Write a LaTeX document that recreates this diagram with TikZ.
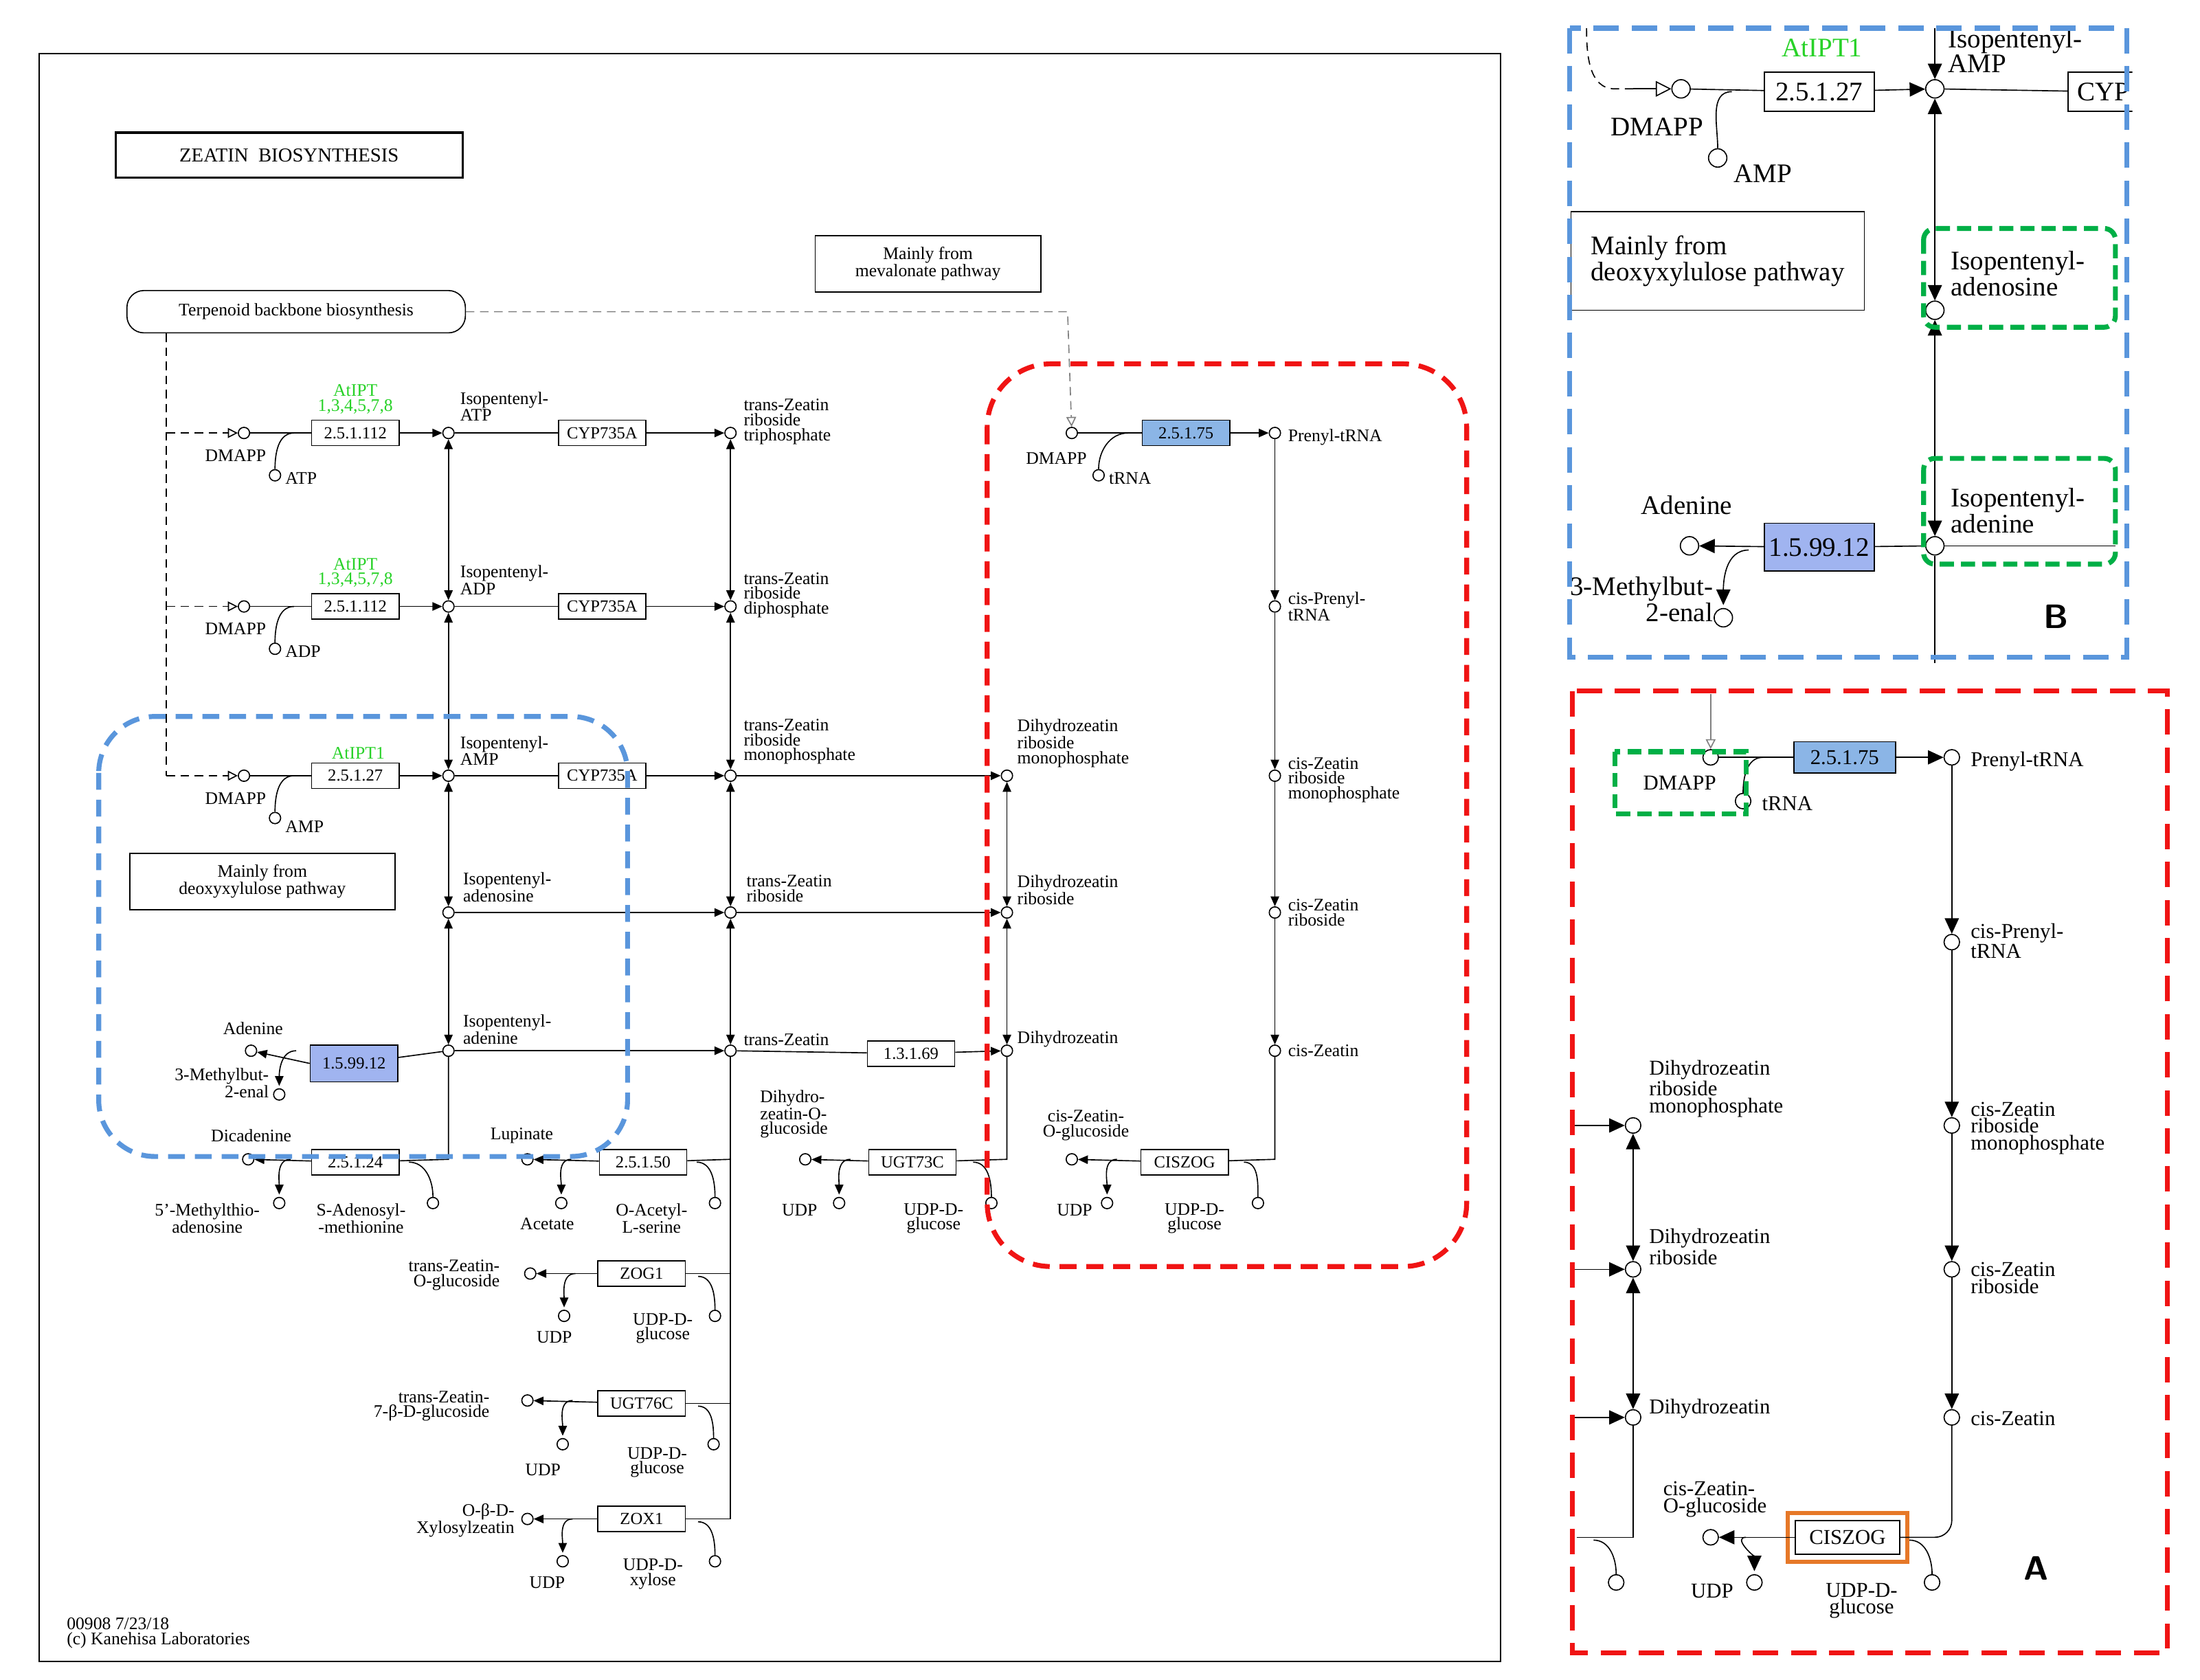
\documentclass[tikz,border=0pt]{standalone}
\usepackage{fontspec}
\setmainfont{Liberation Serif}
\usetikzlibrary{arrows.meta,calc}
\definecolor{kblue}{RGB}{160,180,240}
\definecolor{kgreen}{RGB}{40,210,40}
\definecolor{dblue}{RGB}{90,150,220}
\definecolor{dred}{RGB}{240,20,20}
\definecolor{dgreen}{RGB}{0,175,70}
\definecolor{dorange}{RGB}{230,120,40}
\begin{document}
\begin{tikzpicture}[x=1pt,y=-1pt,line width=0.8pt,
 cmp/.style={circle,draw,fill=white,inner sep=0,minimum size=8pt},
 big/.style={circle,draw,fill=white,inner sep=0,minimum size=13pt},
 enz/.style={draw,fill=white,minimum width=62,minimum height=18,inner sep=1pt,font=\fontsize{12}{12}\selectfont},
 benz/.style={enz,fill=kblue},
 Enz/.style={draw,fill=white,minimum width=78,minimum height=28,inner sep=1pt,font=\fontsize{19}{19}\selectfont},
 t/.style={font=\fontsize{12.5}{10.5}\selectfont,align=left,inner sep=1pt},
 T/.style={font=\fontsize{19}{16}\selectfont,align=left,inner sep=1pt},
 ar/.style={-{Triangle[length=7pt,width=6pt]}},
 Ar/.style={-{Triangle[length=11pt,width=10pt]}},
 dar/.style={{Triangle[length=7pt,width=6pt]}-{Triangle[length=7pt,width=6pt]}},
 Dar/.style={{Triangle[length=11pt,width=10pt]}-{Triangle[length=11pt,width=10pt]}},
 dsh/.style={dashed,dash pattern=on 6pt off 4pt},
 otri/.style={-{Triangle[open,length=7pt,width=7pt]}},
 Otri/.style={-{Triangle[open,length=11pt,width=11pt]}}]
\useasboundingbox (0,0) rectangle (1560,1191);
\fill[white] (0,0) rectangle (1560,1191);
% ===== left panel =====
\draw[line width=1pt] (28,38) rectangle (1064,1178);
\node[draw,line width=1.6pt,minimum width=246,minimum height=32,font=\fontsize{14}{14}\selectfont] (title) at (205,110) {ZEATIN\ \ BIOSYNTHESIS};
\node[draw,rounded corners=12pt,minimum width=240,minimum height=30,t] (terp) at (210,221) {Terpenoid backbone biosynthesis};
\node[draw,minimum width=160,minimum height=40,t,align=center] (mev) at (658,187) {Mainly from\\ mevalonate pathway};
\node[draw,minimum width=188,minimum height=40,t,align=center] (deo) at (186,625) {Mainly from\\ deoxyxylulose pathway};
% compounds
\foreach \n/\x/\y in {d1/173/307,d2/173/430,d3/173/550,atp/195/337,adp/195/460,amp/195/580,
 iatp/318/307,iadp/318/430,iamp/318/550,iado/318/647,iade/318/745,
 tzt/518/307,tzd/518/430,tzm/518/550,tzr/518/647,tz/518/745,
 dzm/714/550,dzr/714/647,dz/714/745,
 dm/760/307,trna/779/337,ptrna/904/307,cpt/904/430,czm/904/550,czr/904/647,cz/904/745,
 aden/178/745,meb/198/776,dic/176/822,mta/198/853,sam/307/853,
 lup/374/822,ace/398/853,oas/507/853,dzog/571/822,udp1/595/853,udpg1/703/853,
 czog/760/822,udp2/785/853,udpg2/892/853,
 tzog/376/903,udp3/400/933,udpg3/507/933,
 tz7/374/993,udp4/399/1024,udpg4/506/1024,
 oxz/374/1077,udp5/399/1107,udx/507/1107}
 {\node[cmp] (\n) at (\x,\y) {};}
% enzymes
\node[enz] (e1) at (252,307) {2.5.1.112};
\node[enz] (e2) at (252,430) {2.5.1.112};
\node[enz] (e3) at (252,550) {2.5.1.27};
\node[enz] (c1) at (427,307) {CYP735A};
\node[enz] (c2) at (427,430) {CYP735A};
\node[enz] (c3) at (427,550) {CYP735A};
\node[benz,minimum height=26] (e4) at (251,754) {1.5.99.12};
\node[enz] (e5) at (646,747) {1.3.1.69};
\node[enz] (e6) at (252,824) {2.5.1.24};
\node[enz] (e7) at (456,824) {2.5.1.50};
\node[enz] (e8) at (647,824) {UGT73C};
\node[enz] (e9) at (840,824) {CISZOG};
\node[enz] (e10) at (455,903) {ZOG1};
\node[enz] (e11) at (455,995) {UGT76C};
\node[enz] (e12) at (455,1077) {ZOX1};
\node[benz,fill=dblue!70] (e13) at (841,307) {2.5.1.75};
% green labels
\node[t,text=kgreen,align=center] at (252,283) {AtIPT\\1,3,4,5,7,8};
\node[t,text=kgreen,align=center] at (252,406) {AtIPT\\1,3,4,5,7,8};
\node[t,text=kgreen] at (254,534) {AtIPT1};
% dashed from terpenoid
\coordinate (tl) at (118,237);
\draw[dsh] (terp.south west -| tl) -- (118,550);
\foreach \d/\y in {d1/307,d2/430,d3/550}{\draw[dsh,otri] (118,\y) -- (\d);}
\draw[dsh,otri,gray] (terp.east) -- (757,221) -- (dm);
% rows
\foreach \d/\e/\p/\s in {d1/e1/iatp/atp,d2/e2/iadp/adp,d3/e3/iamp/amp}{
 \draw (\d) -- (\e); \draw[ar] (\e) -- (\p);
 \draw (\s) to[out=90,in=180] ($(\d)!0.45!(\e)$);}
\foreach \a/\c/\b in {iatp/c1/tzt,iadp/c2/tzd,iamp/c3/tzm}{\draw (\a)--(\c); \draw[ar] (\c)--(\b);}
\draw[ar] (iado) -- (tzr); \draw[ar] (iade) -- (tz);
\draw[ar] (tzm) -- (dzm); \draw[ar] (tzr) -- (dzr);
\draw (tz) -- (e5); \draw[ar] (e5) -- (dz);
\draw[dar] (iatp) -- (iadp); \draw[dar] (iadp) -- (iamp); \draw[dar] (iamp) -- (iado); \draw[dar] (iado) -- (iade);
\draw[dar] (tzt) -- (tzd); \draw[dar] (tzd) -- (tzm); \draw[dar] (tzm) -- (tzr); \draw[dar] (tzr) -- (tz);
\draw[dar] (dzm) -- (dzr); \draw[dar] (dzr) -- (dz);
% 1.5.99.12
\draw (iade) -- (e4); \draw[ar] (e4.west) -- (aden);
\draw[ar] (210,745) to[out=180,in=90] ($(meb)+(0,-6)$);
% 2.5.1.24
\draw (iade) -- (318,822) -- (e6); \draw[ar] (e6) -- (dic);
\draw[ar] (206,822) to[out=180,in=90] ($(mta)+(0,-6)$);
\draw (sam) to[out=90,in=0] (290,824);
% 2.5.1.50
\draw (tz) -- (518,1077);
\draw (518,822) -- (e7); \draw[ar] (e7) -- (lup);
\draw[ar] (405,822) to[out=180,in=90] ($(ace)+(0,-6)$);
\draw (oas) to[out=90,in=0] (494,824);
% UGT73C
\draw (dz) -- (714,822) -- (e8); \draw[ar] (e8) -- (dzog);
\draw[ar] (603,822) to[out=180,in=90] ($(udp1)+(0,-6)$);
\draw (udpg1) to[out=90,in=0] (690,824);
% CISZOG
\draw (cz) -- (904,822) -- (e9); \draw[ar] (e9) -- (czog);
\draw[ar] (792,822) to[out=180,in=90] ($(udp2)+(0,-6)$);
\draw (udpg2) to[out=90,in=0] (882,824);
% ZOG1 etc
\foreach \e/\p/\u/\g/\y in {e10/tzog/udp3/udpg3/903,e11/tz7/udp4/udpg4/995,e12/oxz/udp5/udx/1077}{
 \draw (518,\y) -- (\e); \draw[ar] (\e) -- (\p);
 \draw[ar] ($(\p)+(32,0)$) to[out=180,in=90] ($(\u)+(0,-6)$);
 \draw (\g) to[out=90,in=0] ($(\e)+(40,2)$);}
% cis branch
\draw (dm) -- (e13); \draw[ar] (e13) -- (ptrna);
\draw (trna) to[out=90,in=180] (800,307);
\draw[ar] (ptrna) -- (cpt); \draw[ar] (cpt) -- (czm); \draw[ar] (czm) -- (czr); \draw[ar] (czr) -- (cz);
% labels
\node[t,anchor=east] at (190,323) {DMAPP}; \node[t,anchor=west] at (201,339) {ATP};
\node[t,anchor=east] at (190,446) {DMAPP}; \node[t,anchor=west] at (201,462) {ADP};
\node[t,anchor=east] at (190,566) {DMAPP}; \node[t,anchor=west] at (201,586) {AMP};
\node[t,anchor=south west] at (325,300) {Isopentenyl-\\ATP};
\node[t,anchor=south west] at (325,423) {Isopentenyl-\\ADP};
\node[t,anchor=south west] at (325,544) {Isopentenyl-\\AMP};
\node[t,anchor=south west] at (327,641) {Isopentenyl-\\adenosine};
\node[t,anchor=south west] at (327,742) {Isopentenyl-\\adenine};
\node[t,anchor=west] at (526,299) {trans-Zeatin\\riboside\\triphosphate};
\node[t,anchor=west] at (526,422) {trans-Zeatin\\riboside\\diphosphate};
\node[t,anchor=west] at (526,526) {trans-Zeatin\\riboside\\monophosphate};
\node[t,anchor=west] at (528,630) {trans-Zeatin\\riboside};
\node[t,anchor=west] at (526,737) {trans-Zeatin};
\node[t,anchor=west] at (720,527) {Dihydrozeatin\\riboside\\monophosphate};
\node[t,anchor=west] at (720,631) {Dihydrozeatin\\riboside};
\node[t,anchor=west] at (720,737) {Dihydrozeatin};
\node[t,anchor=east] at (772,325) {DMAPP}; \node[t,anchor=west] at (785,339) {tRNA};
\node[t,anchor=west] at (912,310) {Prenyl-tRNA};
\node[t,anchor=west] at (912,430) {cis-Prenyl-\\tRNA};
\node[t,anchor=west] at (912,553) {cis-Zeatin\\riboside\\monophosphate};
\node[t,anchor=west] at (912,647) {cis-Zeatin\\riboside};
\node[t,anchor=west] at (912,745) {cis-Zeatin};
\node[t,anchor=east] at (202,729) {Adenine};
\node[t,anchor=east,align=right] at (192,768) {3-Methylbut-\\2-enal};
\node[t,anchor=east] at (208,805) {Dicadenine};
\node[t,align=center] at (147,864) {5'-Methylthio-\\adenosine};
\node[t,align=center] at (256,864) {S-Adenosyl-\\-methionine};
\node[t] at (370,805) {Lupinate};
\node[t] at (388,868) {Acetate};
\node[t,align=center] at (462,864) {O-Acetyl-\\L-serine};
\node[t,align=left] at (563,790) {Dihydro-\\zeatin-O-\\glucoside};
\node[t] at (567,858) {UDP}; \node[t,align=center] at (662,864) {UDP-D-\\glucose};
\node[t,align=center] at (770,798) {cis-Zeatin-\\O-glucoside};
\node[t] at (762,858) {UDP}; \node[t,align=center] at (847,864) {UDP-D-\\glucose};
\node[t,align=right] at (322,904) {trans-Zeatin-\\O-glucoside};
\node[t] at (393,948) {UDP}; \node[t,align=center] at (470,942) {UDP-D-\\glucose};
\node[t,align=right] at (306,997) {trans-Zeatin-\\7-β-D-glucoside};
\node[t] at (385,1042) {UDP}; \node[t,align=center] at (466,1037) {UDP-D-\\glucose};
\node[t,align=right] at (330,1078) {O-β-D-\\Xylosylzeatin};
\node[t] at (388,1122) {UDP}; \node[t,align=center] at (463,1116) {UDP-D-\\xylose};
\node[t,anchor=west] at (46,1158) {00908 7/23/18\\(c) Kanehisa Laboratories};
% highlight regions
\draw[dblue,line width=3.5pt,dash pattern=on 12pt off 7pt,rounded corners=40pt] (70,508) rectangle (445,820);
\draw[dred,line width=3.5pt,dash pattern=on 12pt off 7pt,rounded corners=45pt] (700,258) rectangle (1040,898);
% ===== inset B =====
\begin{scope}
\clip (1110,17) rectangle (1512,470);
\node[big] (Bd) at (1192,63) {}; \node[big] (Bamp) at (1218,112) {};
\node[big] (Bi) at (1372,63) {}; \node[big] (Bado) at (1372,220) {};
\node[big] (Bade) at (1372,387) {}; \node[big] (Baden) at (1198,387) {};
\node[big] (Bmeb) at (1222,438) {};
\node[Enz] (Be) at (1290,65) {2.5.1.27};
\node[Enz,anchor=west,minimum width=50] (Bc) at (1466,65) {CYP};
\node[Enz,fill=kblue,minimum height=34] (Bf) at (1290,388) {1.5.99.12};
\node[draw,minimum width=208,minimum height=70,T,align=left] (Bdeo) at (1218,185) {Mainly from\\deoxyxylulose pathway};
\draw[dsh] (1125,20) to[out=-90,in=180] (1145,63) -- (1160,63);
\draw[Otri] (1158,63) -- (Bd);
\draw (Bd) -- (Be); \draw[Ar] (Be) -- (Bi); \draw (Bi) -- (Bc);
\draw (Bamp) to[out=90,in=180] (1228,65);
\draw[Ar] (1372,20) -- (Bi);
\draw[Dar] (Bi) -- (Bado); \draw[Dar] (Bado) -- (Bade);
\draw (Bade) -- (1372,470); \draw (Bade) -- (1500,387);
\draw (Bade) -- (Bf); \draw[Ar] (Bf) -- (Baden);
\draw[Ar] (1240,390) to[out=180,in=90] ($(Bmeb)+(0,-9)$);
\node[T,text=kgreen] at (1292,34) {AtIPT1};
\node[T,anchor=west] at (1380,36) {Isopentenyl-\\AMP};
\node[T] at (1175,90) {DMAPP}; \node[T] at (1250,123) {AMP};
\node[T,anchor=west] at (1382,194) {Isopentenyl-\\adenosine};
\node[T,anchor=west] at (1382,362) {Isopentenyl-\\adenine};
\node[T] at (1196,358) {Adenine};
\node[T,align=right,anchor=east] at (1216,425) {3-Methylbut-\\2-enal};
\end{scope}
\draw[dgreen,line width=3.5pt,dash pattern=on 10pt off 5pt,rounded corners=8pt] (1364,162) rectangle (1500,232);
\draw[dgreen,line width=3.5pt,dash pattern=on 10pt off 5pt,rounded corners=8pt] (1364,325) rectangle (1500,400);
\draw[dblue,line width=3.5pt,dash pattern=on 18pt off 9pt] (1113,20) rectangle (1508,466);
\node[font=\fontsize{24}{24}\selectfont\sffamily\bfseries] at (1458,437) {B};
% ===== inset A =====
\foreach \n/\x/\y in {Ad/1213/537,Atr/1236/568,Ap/1384/537,Acp/1384/668,Acm/1384/798,Acr/1384/900,Acz/1384/1005,
 Adm/1158/798,Adr/1158/900,Adz/1158/1005,Aog/1213/1090,Audp/1244/1122,Aug/1370/1122,Ax1/1146/1122}
 {\node[big,minimum size=11pt] (\n) at (\x,\y) {};}
\node[enz,fill=dblue!70,font=\fontsize{15}{15}\selectfont,minimum width=72,minimum height=22] (Ae) at (1308,537) {2.5.1.75};
\node[enz,font=\fontsize{15}{15}\selectfont,minimum width=74,minimum height=24] (Acs) at (1310,1090) {CISZOG};
\draw[dorange,line width=3pt] ($(Acs.south west)+(-5,5)$) rectangle ($(Acs.north east)+(5,-5)$);
\draw[gray,otri] (1213,492) -- (Ad);
\draw (Ad) -- (Ae); \draw[Ar] (Ae) -- (Ap);
\draw (Atr) to[out=90,in=180] (1250,537);
\draw[Ar] (Ap) -- (Acp); \draw[Ar] (Acp) -- (Acm); \draw[Ar] (Acm) -- (Acr); \draw[Ar] (Acr) -- (Acz);
\draw (Acz) -- (1384,1078) to[out=-90,in=0] (1372,1090) -- (Acs);
\draw[Ar] (Acs) -- (Aog);
\draw[Ar] (1238,1090) to[out=180,in=90] ($(Audp)+(0,-8)$);
\draw (Aug) to[out=90,in=0] (1354,1092);
\draw[Dar] (Adm) -- (Adr); \draw[Dar] (Adr) -- (Adz);
\draw[Ar] (1115,798) -- (Adm); \draw[Ar] (1115,900) -- (Adr); \draw[Ar] (1115,1005) -- (Adz);
\draw (Adz) -- (1158,1090) -- (1118,1090);
\draw (Ax1) to[out=90,in=0] (1130,1092);
\node[t,font=\fontsize{15}{12}\selectfont] at (1191,555) {DMAPP};
\node[t,font=\fontsize{15}{12}\selectfont,anchor=west] at (1248,570) {tRNA};
\node[t,font=\fontsize{15}{12}\selectfont,anchor=west] at (1396,540) {Prenyl-tRNA};
\node[t,font=\fontsize{15}{12}\selectfont,anchor=west] at (1396,667) {cis-Prenyl-\\tRNA};
\node[t,font=\fontsize{15}{12}\selectfont,anchor=west] at (1396,800) {cis-Zeatin\\riboside\\monophosphate};
\node[t,font=\fontsize{15}{12}\selectfont,anchor=west] at (1396,906) {cis-Zeatin\\riboside};
\node[t,font=\fontsize{15}{12}\selectfont,anchor=west] at (1396,1006) {cis-Zeatin};
\node[t,font=\fontsize{15}{12}\selectfont,anchor=west] at (1168,772) {Dihydrozeatin\\riboside\\monophosphate};
\node[t,font=\fontsize{15}{12}\selectfont,anchor=west] at (1168,884) {Dihydrozeatin\\riboside};
\node[t,font=\fontsize{15}{12}\selectfont,anchor=west] at (1168,999) {Dihydrozeatin};
\node[t,font=\fontsize{15}{12}\selectfont,anchor=west] at (1178,1063) {cis-Zeatin-\\O-glucoside};
\node[t,font=\fontsize{15}{12}\selectfont] at (1214,1128) {UDP};
\node[t,font=\fontsize{15}{12}\selectfont,align=center] at (1320,1135) {UDP-D-\\glucose};
\draw[dgreen,line width=3.5pt,dash pattern=on 10pt off 5pt] (1145,533) rectangle (1238,577);
\draw[dred,line width=3.5pt,dash pattern=on 18pt off 9pt] (1115,490) rectangle (1537,1172);
\node[font=\fontsize{24}{24}\selectfont\sffamily\bfseries] at (1444,1112) {A};
\end{tikzpicture}
\end{document}
